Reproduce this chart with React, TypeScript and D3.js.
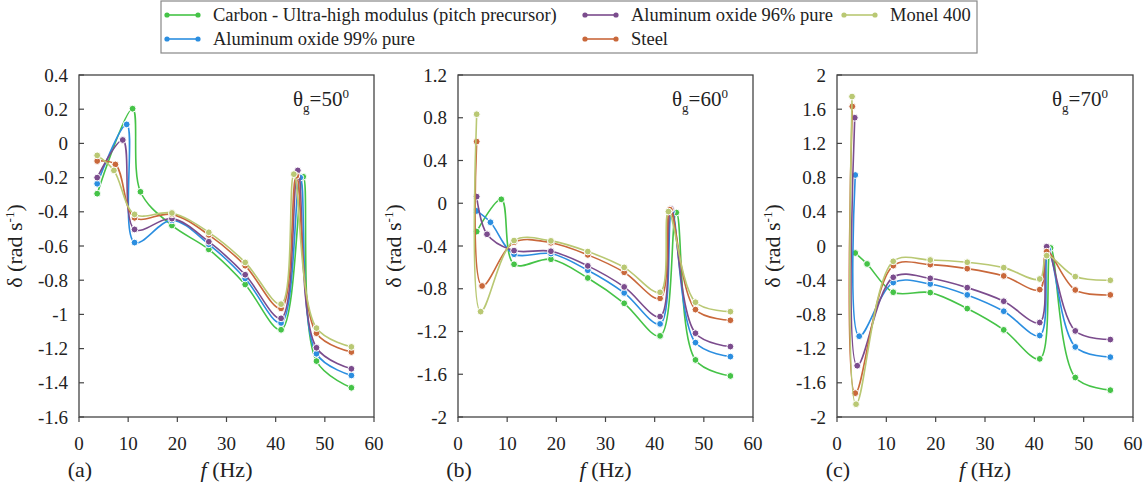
import React from "react";
import * as d3 from "d3";

type Pt = [number, number];

const seriesNames = [
  "Carbon - Ultra-high modulus (pitch precursor)",
  "Aluminum oxide 99% pure",
  "Aluminum oxide 96% pure",
  "Steel",
  "Monel 400",
];
const seriesColors = ["#45c347", "#2b8ee0", "#7b4c8d", "#c9683b", "#b9c873"];

const xTicks = [0, 10, 20, 30, 40, 50, 60];

// Panel (a) θg = 50°
const a_carbon: Pt[] = [[3.7, -0.294], [10.9, 0.203], [12.5, -0.283], [18.9, -0.48], [26.4, -0.62], [33.8, -0.825], [41.1, -1.09], [45.6, -0.195], [48.3, -1.273], [55.4, -1.429]];
const a_al99: Pt[] = [[3.7, -0.236], [9.7, 0.111], [11.3, -0.58], [18.9, -0.45], [26.4, -0.59], [33.8, -0.79], [41.1, -1.05], [45.0, -0.2], [48.3, -1.23], [55.4, -1.357]];
const a_al96: Pt[] = [[3.7, -0.2], [8.9, 0.02], [11.3, -0.503], [18.9, -0.44], [26.4, -0.575], [33.8, -0.768], [41.1, -1.023], [44.5, -0.158], [48.3, -1.195], [55.4, -1.318]];
const a_steel: Pt[] = [[3.7, -0.103], [7.4, -0.123], [11.3, -0.435], [18.9, -0.415], [26.4, -0.535], [33.8, -0.715], [41.1, -0.965], [44.2, -0.19], [48.3, -1.11], [55.4, -1.22]];
const a_monel: Pt[] = [[3.7, -0.07], [7.1, -0.158], [11.3, -0.415], [18.9, -0.407], [26.4, -0.52], [33.8, -0.696], [41.1, -0.94], [43.7, -0.18], [48.3, -1.08], [55.4, -1.19]];
const a_yTicks = [0.4, 0.2, 0, -0.2, -0.4, -0.6, -0.8, -1, -1.2, -1.4, -1.6];

// Panel (b) θg = 60°
const b_carbon: Pt[] = [[3.8, -0.265], [8.8, 0.037], [11.4, -0.571], [18.9, -0.524], [26.4, -0.699], [33.8, -0.936], [41.1, -1.241], [44.4, -0.087], [48.3, -1.466], [55.4, -1.616]];
const b_al99: Pt[] = [[3.8, -0.072], [6.6, -0.178], [11.4, -0.477], [18.9, -0.471], [26.4, -0.627], [33.8, -0.839], [41.1, -1.129], [43.5, -0.08], [48.3, -1.304], [55.4, -1.435]];
const b_al96: Pt[] = [[3.8, 0.062], [5.9, -0.29], [11.4, -0.443], [18.9, -0.449], [26.4, -0.586], [33.8, -0.783], [41.1, -1.06], [43.3, -0.053], [48.3, -1.216], [55.4, -1.341]];
const b_steel: Pt[] = [[3.8, 0.577], [4.9, -0.774], [11.4, -0.365], [18.9, -0.37], [26.4, -0.483], [33.8, -0.646], [41.1, -0.89], [43.1, -0.06], [48.3, -0.995], [55.4, -1.095]];
const b_monel: Pt[] = [[3.8, 0.833], [4.6, -1.014], [11.4, -0.349], [18.9, -0.352], [26.4, -0.452], [33.8, -0.6], [41.1, -0.833], [42.8, -0.078], [48.3, -0.926], [55.4, -1.014]];
const b_yTicks = [1.2, 0.8, 0.4, 0, -0.4, -0.8, -1.2, -1.6, -2];

// Panel (c) θg = 70°
const c_carbon: Pt[] = [[3.7, -0.082], [6.1, -0.21], [11.4, -0.541], [18.9, -0.545], [26.4, -0.732], [33.8, -0.981], [41.1, -1.32], [43.3, -0.023], [48.3, -1.538], [55.4, -1.686]];
const c_al99: Pt[] = [[3.7, 0.83], [4.5, -1.055], [11.4, -0.428], [18.9, -0.444], [26.4, -0.572], [33.8, -0.763], [41.1, -1.047], [42.8, -0.04], [48.3, -1.18], [55.4, -1.3]];
const c_al96: Pt[] = [[3.6, 1.5], [4.1, -1.4], [11.4, -0.366], [18.9, -0.378], [26.4, -0.487], [33.8, -0.646], [41.1, -0.895], [42.5, -0.008], [48.3, -0.993], [55.4, -1.094]];
const c_steel: Pt[] = [[3.1, 1.632], [3.7, -1.721], [11.4, -0.23], [18.9, -0.218], [26.4, -0.265], [33.8, -0.35], [41.1, -0.51], [42.5, -0.066], [48.3, -0.514], [55.4, -0.572]];
const c_monel: Pt[] = [[3.05, 1.748], [3.86, -1.85], [11.4, -0.179], [18.9, -0.164], [26.4, -0.19], [33.8, -0.253], [41.1, -0.386], [42.5, -0.113], [48.3, -0.358], [55.4, -0.401]];
const c_yTicks = [2, 1.6, 1.2, 0.8, 0.4, 0, -0.4, -0.8, -1.2, -1.6, -2];

const panels = [
  { tag: "(a)", theta: "50", series: [a_carbon, a_al99, a_al96, a_steel, a_monel], yTicks: a_yTicks, left: 79, right: 374 },
  { tag: "(b)", theta: "60", series: [b_carbon, b_al99, b_al96, b_steel, b_monel], yTicks: b_yTicks, left: 458, right: 753 },
  { tag: "(c)", theta: "70", series: [c_carbon, c_al99, c_al96, c_steel, c_monel], yTicks: c_yTicks, left: 837, right: 1133 },
];

const TOP = 75;
const BOTTOM = 417;

function fmt(v: number) {
  return String(+v.toFixed(1));
}

function Panel({ p }: { p: any }) {
  const x = d3.scaleLinear().domain([0, 60]).range([p.left, p.right]);
  const yMax = d3.max(p.yTicks as number[]) as number;
  const yMin = d3.min(p.yTicks as number[]) as number;
  const y = d3.scaleLinear().domain([yMin, yMax]).range([BOTTOM, TOP]);
  const line = d3
    .line<Pt>()
    .x((d) => x(d[0]))
    .y((d) => y(d[1]))
    .curve(d3.curveCatmullRom.alpha(0.5));
  const cx = (p.left + p.right) / 2;
  const cy = (TOP + BOTTOM) / 2;
  return (
    <g>
      <rect x={p.left} y={TOP} width={p.right - p.left} height={BOTTOM - TOP} fill="none" stroke="#444" strokeWidth={1.3} />
      {p.yTicks.map((t: number) => (
        <g key={"y" + t}>
          <line x1={p.left} x2={p.left + 5} y1={y(t)} y2={y(t)} stroke="#444" strokeWidth={1.2} />
          <text x={p.left - 11} y={y(t)} dy="0.35em" textAnchor="end" fontSize={19} fill="#222">
            {fmt(t)}
          </text>
        </g>
      ))}
      {xTicks.map((t) => (
        <g key={"x" + t}>
          <line x1={x(t)} x2={x(t)} y1={BOTTOM} y2={BOTTOM + 5} stroke="#444" strokeWidth={1.2} />
          <text x={x(t)} y={450} textAnchor="middle" fontSize={19} fill="#222">
            {t}
          </text>
        </g>
      ))}
      {p.series.map((s: Pt[], i: number) => (
        <g key={"s" + i}>
          <path d={line(s) || ""} fill="none" stroke={seriesColors[i]} strokeWidth={1.6} />
          {s.map((d, j) => (
            <circle key={j} cx={x(d[0])} cy={y(d[1])} r={3.4} fill={seriesColors[i]} stroke="#fff" strokeWidth={1} />
          ))}
        </g>
      ))}
      <text x={p.left - 57} y={cy} transform={`rotate(-90 ${p.left - 57} ${cy})`} textAnchor="middle" fontSize={22} fill="#222">
        δ (rad s<tspan dy={-8} fontSize={13}>-1</tspan>
        <tspan dy={8}>)</tspan>
      </text>
      <text x={p.right - 81} y={106} fontSize={21} fill="#222">
        θ<tspan dy={6} fontSize={13}>g</tspan>
        <tspan dy={-6}>={p.theta}</tspan>
        <tspan dy={-8} fontSize={13}>0</tspan>
      </text>
      <text x={p.left + 1} y={477} textAnchor="middle" fontSize={22} fill="#222">
        {p.tag}
      </text>
      <text x={cx} y={477} textAnchor="middle" fontSize={22} fill="#222">
        <tspan fontStyle="italic">f</tspan> (Hz)
      </text>
    </g>
  );
}

const legendLayout = [
  { x: 166, y: 15 },
  { x: 166, y: 39 },
  { x: 584, y: 15 },
  { x: 584, y: 39 },
  { x: 843, y: 15 },
];

export default function App() {
  return (
    <svg width={1147} height={488} fontFamily="Liberation Serif" style={{ position: "absolute", left: 0, top: 0, background: "#fff" }}>
      <rect x={161} y={1} width={816} height={52} fill="#fff" stroke="#888" strokeWidth={1.2} />
      {seriesNames.map((n, i) => {
        const L = legendLayout[i];
        return (
          <g key={n}>
            <line x1={L.x} x2={L.x + 32} y1={L.y} y2={L.y} stroke={seriesColors[i]} strokeWidth={1.6} />
            <circle cx={L.x + 1} cy={L.y} r={2.6} fill={seriesColors[i]} />
            <circle cx={L.x + 32} cy={L.y} r={2.6} fill={seriesColors[i]} />
            <text x={L.x + 47} y={L.y} dy="0.35em" fontSize={18.5} fill="#222">
              {n}
            </text>
          </g>
        );
      })}
      {panels.map((p) => (
        <Panel key={p.tag} p={p} />
      ))}
    </svg>
  );
}
